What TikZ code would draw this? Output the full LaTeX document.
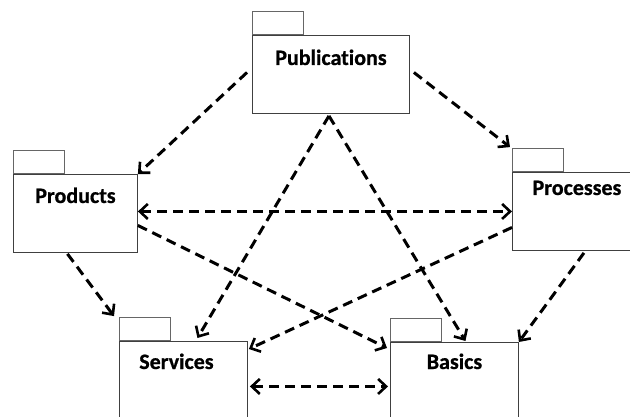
\documentclass[tikz,border=0pt]{standalone}
\usepackage{fontspec}
\setmainfont{Carlito}[Ligatures={NoCommon},BoldFeatures={FakeBold=0.8}]
\usetikzlibrary{arrows.meta,calc}
\begin{document}
\begin{tikzpicture}[x=1pt,y=-1pt,
  body/.style={draw=black!75,line width=0.9pt,fill=white,inner sep=0pt,anchor=north west},
  tab/.style={draw=black!60,line width=0.9pt,fill=white,inner sep=0pt,anchor=south west,minimum width=51pt,minimum height=23pt},
  lbl/.style={anchor=base,font=\fontsize{22}{24}\selectfont\bfseries,inner sep=0pt},
  dep/.style={line width=3pt,dash pattern=on 10pt off 6pt,-{Straight Barb[length=8pt,width=15pt,line width=2.6pt]}},
  bidep/.style={dep,{Straight Barb[length=8pt,width=15pt,line width=2.6pt]}-{Straight Barb[length=8pt,width=15pt,line width=2.6pt]}}
]
\useasboundingbox (0,0) rectangle (630,417);
\clip (0,0) rectangle (630,417);
% packages
\node[tab] (pubtab) at (252,35) {};
\node[body,minimum width=157pt,minimum height=78pt] (pub) at (252,35) {};
\node[lbl] (publbl) at ($(pub.north)+(0,30)$) {Publications};

\node[tab] (prodtab) at (13,174) {};
\node[body,minimum width=124pt,minimum height=78pt] (prod) at (13,174) {};
\node[lbl] (prodlbl) at ($(prod.north)+(0,29)$) {Products};

\node[tab] (proctab) at (512,172) {};
\node[body,minimum width=125pt,minimum height=78pt] (proc) at (512,172) {};
\node[lbl] (proclbl) at ($(proc.north)+(2,23)$) {Processes};

\node[tab] (servtab) at (119,341) {};
\node[body,minimum width=128pt,minimum height=90pt] (serv) at (119,341) {};
\node[lbl] (servlbl) at ($(serv.north)+(-7,28)$) {Services};

\node[tab] (bastab) at (390,342) {};
\node[body,minimum width=128pt,minimum height=88pt] (bas) at (390,342) {};
\node[lbl] (baslbl) at ($(bas.north)+(0,27)$) {Basics};

% dependencies
\draw[dep] ($(pub.west)+(-5,-2)$) -- (prod.north east);
\draw[dep] ($(pub.east)+(4,-2)$) -- ($(proctab.north west)+(-2,-1)$);
\draw[dep] ($(pub.south)+(-2,2)$) -- ($(serv.north)+(14,-3)$);
\draw[dep] ($(pub.south)+(-2,2)$) -- ($(bas.north)+(11,-1)$);
\draw[bidep] ($(prod.east)+(0,-2)$) -- ($(proc.west)+(0,0)$);
\draw[dep] ($(prod.south)+(-8,1)$) -- ($(servtab.north west)+(-5,-1)$);
\draw[dep] ($(prod.east)+(0,12)$) -- ($(bas.north west)+(-3,6)$);
\draw[dep] ($(proc.west)+(0,16)$) -- ($(serv.north east)+(1,8)$);
\draw[dep] ($(proc.south)+(9,2)$) -- (bas.north east);
\draw[bidep] ($(serv.east)+(2,0)$) -- ($(bas.west)+(-2,0)$);
\end{tikzpicture}
\end{document}
